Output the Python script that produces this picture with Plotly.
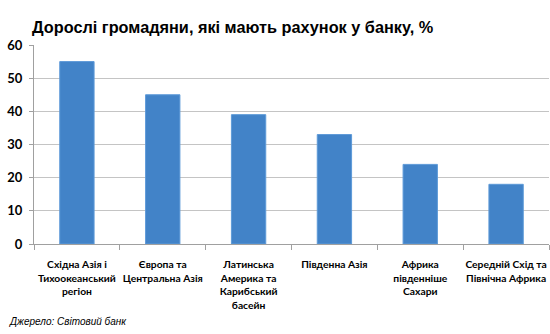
import plotly.graph_objects as go

# Share of adults with a bank account, by region (%)
regions = [
    "Східна Азія і<br>Тихоокеанський<br>регіон",
    "Європа та<br>Центральна Азія",
    "Латинська<br>Америка та<br>Карибський<br>басейн",
    "Південна Азія",
    "Африка<br>південніше<br>Сахари",
    "Середній Схід та<br>Північна Африка",
]
shares = [55, 45, 39, 33, 24, 18]
y_ticks = [0, 10, 20, 30, 40, 50, 60]

title_text = "Дорослі громадяни, які мають рахунок у банку, %"
source_text = "Джерело: Світовий банк"

fig = go.Figure(
    go.Bar(
        x=regions,
        y=shares,
        marker=dict(color="#4283c8", line=dict(color="#5e9ad8", width=1)),
        hoverinfo="x+y",
    )
)

fig.update_layout(
    width=550,
    height=334,
    margin=dict(l=34, r=1, t=45, b=90),
    paper_bgcolor="white",
    plot_bgcolor="white",
    bargap=0.6,
    showlegend=False,
    font=dict(family="Lato, Liberation Sans, sans-serif", color="#000000"),
)

fig.update_xaxes(
    type="category",
    tickson="boundaries",
    ticks="outside",
    ticklen=5,
    tickcolor="#a0a0a0",
    showline=True,
    linecolor="#a0a0a0",
    linewidth=1,
    showgrid=False,
    tickangle=0,
    tickfont=dict(family="Lato", size=10.3, color="#000000", weight="bold"),
    ticklabelstandoff=11,
)

fig.update_yaxes(
    range=[0, 60],
    tickvals=y_ticks,
    ticks="outside",
    ticklen=4,
    tickcolor="#a0a0a0",
    showline=True,
    linecolor="#a0a0a0",
    linewidth=1,
    showgrid=True,
    gridcolor="#c4c4c4",
    gridwidth=1,
    zeroline=False,
    tickfont=dict(family="Lato", size=13, color="#000000", weight="bold"),
    ticklabelstandoff=4,
)

fig.add_annotation(
    text=title_text,
    xref="paper", yref="paper",
    x=-0.008, y=1.0,
    xanchor="left", yanchor="bottom",
    yshift=7,
    showarrow=False,
    font=dict(family="Liberation Sans, Arial, sans-serif", size=16.3, color="#000000", weight="bold"),
)

fig.add_annotation(
    text="<i>" + source_text + "</i>",
    xref="paper", yref="paper",
    x=-0.053, y=0,
    xanchor="left", yanchor="top",
    yshift=-70,
    showarrow=False,
    font=dict(family="Liberation Sans, Arial, sans-serif", size=10, color="#000000"),
)

fig.write_html("out.html")
